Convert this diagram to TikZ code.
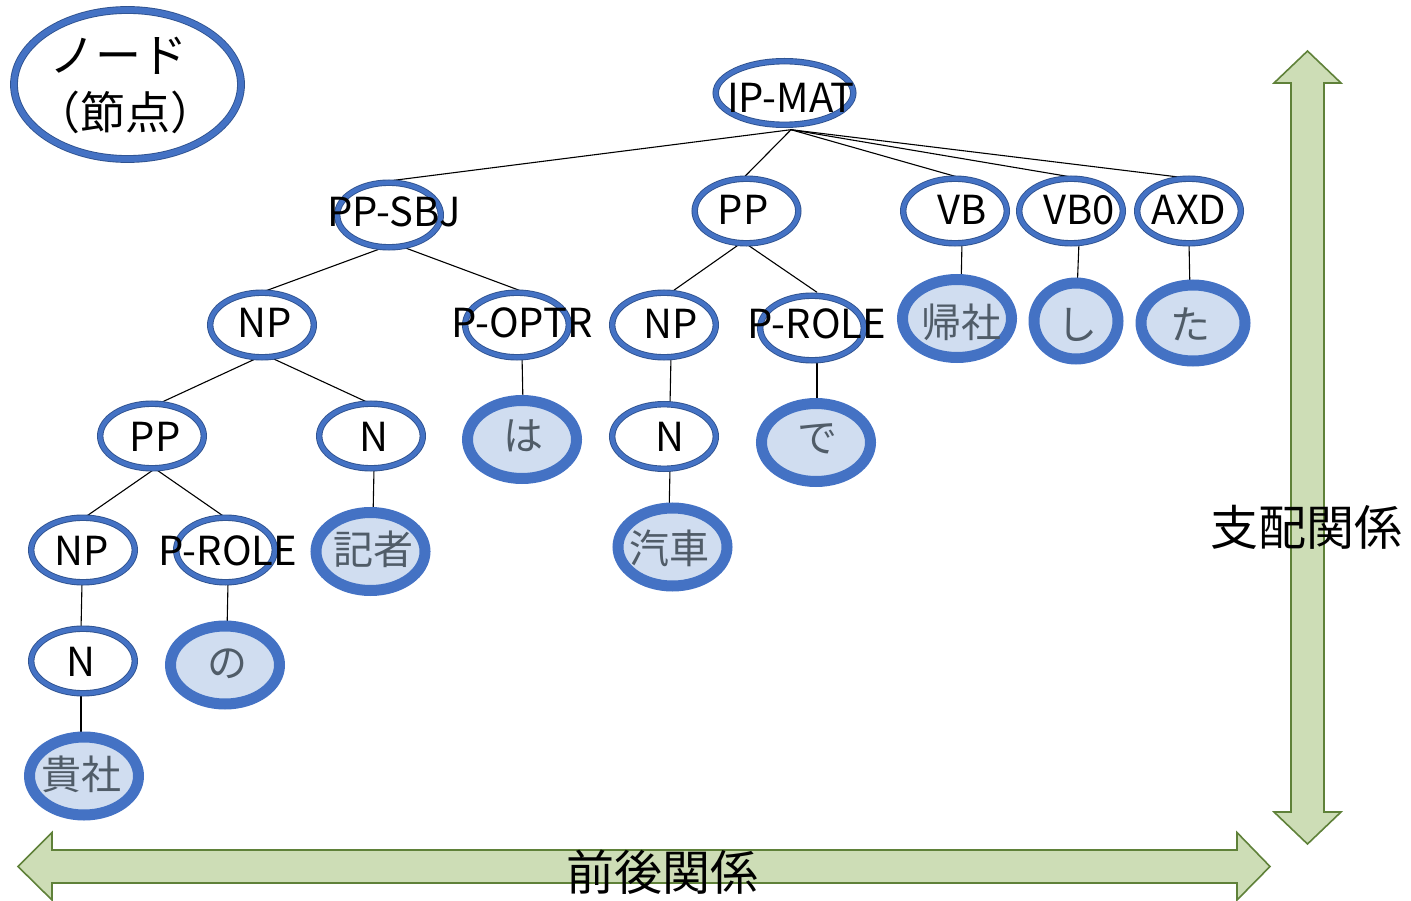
\documentclass[tikz,border=0pt]{standalone}
\usepackage{fontspec}
\setmainfont{Noto Sans CJK JP}
\usetikzlibrary{shapes.geometric}
\pgfdeclarelayer{bg}
\pgfsetlayers{bg,main}
\definecolor{eblue}{HTML}{4472C4}
\definecolor{edark}{HTML}{2F528F}
\definecolor{tfill}{HTML}{D0DDF0}
\definecolor{tgray}{HTML}{505C68}
\definecolor{afill}{HTML}{CDDDB6}
\definecolor{aline}{HTML}{5F8139}
\begin{document}
\begin{tikzpicture}[x=1pt,y=-1pt,
  nt/.style={ellipse, draw=edark, line width=0.9pt, double=eblue, double distance=4.6pt, fill=white, inner sep=0pt, minimum width=103.6pt, minimum height=64.6pt},
  tm/.style={ellipse, draw=eblue, line width=11pt, fill=tfill, inner sep=0pt, minimum width=109pt, minimum height=78pt},
  lab/.style={font=\fontsize{40}{48}\selectfont, text height=29pt, text depth=0pt, inner xsep=0pt, inner ysep=17pt},
  tlab/.style={lab, text=tgray},
  edge/.style={line width=1.1pt, black},
  arr/.style={draw=aline, line width=1.6pt, fill=afill, line join=miter},
  big/.style={font=\fontsize{48}{56}\selectfont, inner sep=0pt}]
\useasboundingbox (0,0) rectangle (1411,901);

% arrows
\draw[arr] (18,866.5) -- (52,832.5) -- (52,850) -- (1237,850) -- (1237,832.5) -- (1270,866.5) -- (1237,900) -- (1237,883) -- (52,883) -- (52,900) -- cycle;
\draw[arr] (1307.5,51) -- (1341,83) -- (1324,83) -- (1324,812) -- (1341,812) -- (1307.5,844) -- (1274,812) -- (1291,812) -- (1291,83) -- (1274,83) -- cycle;

% legend ellipse
\node[ellipse, draw=edark, line width=0.9pt, double=eblue, double distance=6pt, fill=white, inner sep=0pt, minimum width=227pt, minimum height=149pt] (eLeg) at (127.5,84.5) {};
\node[font=\fontsize{46}{50}\selectfont, inner sep=0pt] (leg1) at (118,56) {ノード};
\node[font=\fontsize{45}{50}\selectfont, inner sep=0pt] (leg2) at (125,112) {（節点）};

% nonterminal ellipses
\node[nt, minimum width=137.6pt, minimum height=63.6pt] (eIP) at (784.5,93) {};
\node[nt] (ePPSBJ) at (389,215) {};
\node[nt] (ePP1) at (746.5,211) {};
\node[nt] (eVB) at (955,211) {};
\node[nt] (eVB0) at (1071,211) {};
\node[nt] (eAXD) at (1189,211) {};
\node[nt] (eNP1) at (262,325) {};
\node[nt] (ePOPTR) at (517,325) {};
\node[nt] (eNP2) at (664,325) {};
\node[nt] (ePROLE1) at (812,328) {};
\node[nt] (ePP2) at (152,436) {};
\node[nt] (eN1) at (371,436) {};
\node[nt] (eN2) at (664,436.5) {};
\node[nt] (eNP3) at (83,550) {};
\node[nt, minimum width=98.6pt] (ePROLE2) at (225.5,550) {};
\node[nt] (eN3) at (83,661) {};

% terminal ellipses
\node[tm] (eKisha1) at (957,318.5) {};
\node[tm, minimum width=84pt, minimum height=76pt] (eShi) at (1076,321) {};
\node[tm, minimum width=104pt, minimum height=76pt] (eTa) at (1193,323) {};
\node[tm] (eWa) at (522,439.5) {};
\node[tm] (eDe) at (816,442.5) {};
\node[tm] (eKisha2) at (370.5,551.5) {};
\node[tm] (eKisha3) at (672.5,547) {};
\node[tm] (eNo) at (225,665) {};
\node[tm] (eKisha4) at (84,776) {};

% labels
\node[lab] (ip) at (791,98) {IP-MAT};
\node[lab] (ppsbj) at (394,212) {PP-SBJ};
\node[lab] (pp1) at (743,210) {PP};
\node[lab] (vb) at (962,210) {VB};
\node[lab] (vb0) at (1079,210) {VB0};
\node[lab] (axd) at (1189,210) {AXD};
\node[lab] (np1) at (264.5,323) {NP};
\node[lab] (poptr) at (522,323) {P-OPTR};
\node[lab] (np2) at (671,324) {NP};
\node[lab] (prole1) at (817,324) {P-ROLE};
\node[lab] (pp2) at (155,437) {PP};
\node[lab] (n1) at (374,437) {N};
\node[lab] (n2) at (670,437) {N};
\node[lab] (np3) at (82,551) {NP};
\node[lab] (prole2) at (228,551) {P-ROLE};
\node[lab] (n3) at (81,662) {N};

\node[tlab] (kisha1) at (961,323) {帰社};
\node[tlab] (shi) at (1077,325) {し};
\node[tlab] (ta) at (1190,325) {た};
\node[tlab] (wa) at (523,436) {は};
\node[tlab] (de) at (817,438) {で};
\node[tlab] (kisha2) at (373,550) {記者};
\node[tlab] (kisha3) at (669,549) {汽車};
\node[tlab] (no) at (227,663) {の};
\node[tlab] (kisha4) at (81,775) {貴社};

\node[big] (shihai) at (1306,527) {支配関係};
\node[big] (zengo) at (662,872) {前後関係};

% edges
\begin{pgfonlayer}{bg}
\draw[edge] (ip.south) -- (ppsbj.north);
\draw[edge] (ip.south) -- (pp1.north);
\draw[edge] (ip.south) -- (vb.north);
\draw[edge] (ip.south) -- (vb0.north);
\draw[edge] (ip.south) -- (axd.north);
\draw[edge] (ppsbj.south) -- (np1.north);
\draw[edge] (ppsbj.south) -- (poptr.north);
\draw[edge] (pp1.south) -- (np2.north);
\draw[edge] (pp1.south) -- (prole1.north);
\draw[edge] (vb.south) -- (kisha1.north);
\draw[edge] (vb0.south) -- (shi.north);
\draw[edge] (axd.south) -- (ta.north);
\draw[edge] (np1.south) -- (pp2.north);
\draw[edge] (np1.south) -- (n1.north);
\draw[edge] (poptr.south) -- (wa.north);
\draw[edge] (np2.south) -- (n2.north);
\draw[edge] (prole1.south) -- (de.north);
\draw[edge] (pp2.south) -- (np3.north);
\draw[edge] (pp2.south) -- (prole2.north);
\draw[edge] (n1.south) -- (kisha2.north);
\draw[edge] (n2.south) -- (kisha3.north);
\draw[edge] (np3.south) -- (n3.north);
\draw[edge] (prole2.south) -- (no.north);
\draw[edge] (n3.south) -- (kisha4.north);
\end{pgfonlayer}
\end{tikzpicture}
\end{document}
